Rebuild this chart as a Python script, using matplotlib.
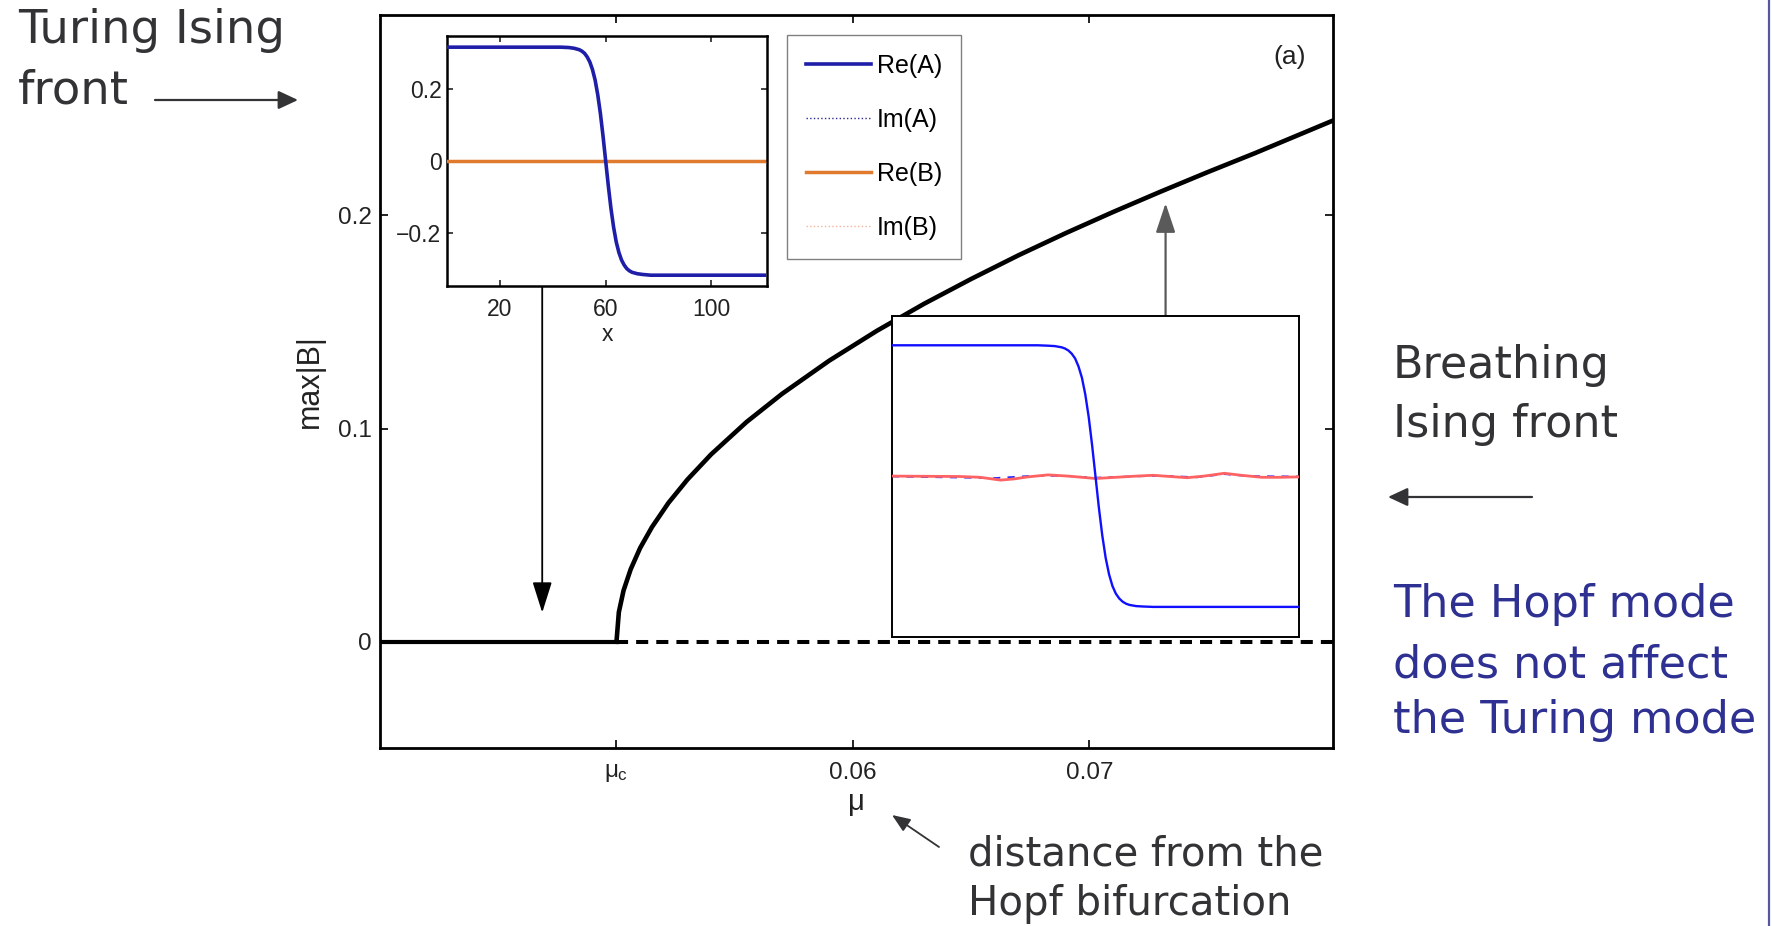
import matplotlib
matplotlib.use("Agg")
import matplotlib.pyplot as plt
from matplotlib.lines import Line2D
from matplotlib.patches import FancyArrowPatch

W, H = 1772, 926

# bifurcation diagram: max|B| versus mu
mu_lower = [0.04, 0.05]
maxB_lower = [0.0, 0.0]
mu_unstable = [0.05, 0.0803]
maxB_unstable = [0.0, 0.0]
mu_branch = [0.0500, 0.0501, 0.0503, 0.0506, 0.0510, 0.0515, 0.0522, 0.0530,
             0.0540, 0.0555, 0.0570, 0.0590, 0.0610, 0.0630, 0.0650, 0.0670,
             0.0690, 0.0710, 0.0730, 0.0750, 0.0770, 0.0803]
maxB_branch = [0.0, 0.0139, 0.0241, 0.0340, 0.0440, 0.0538, 0.0652, 0.0761,
               0.0879, 0.1031, 0.1163, 0.1319, 0.1458, 0.1585, 0.1702, 0.1813,
               0.1917, 0.2016, 0.2111, 0.2203, 0.2292, 0.2445]

mu_ticks = [0.05, 0.06, 0.07]
mu_ticklabels = [r"$\mu_c$", "0.06", "0.07"]
maxB_ticks = [0, 0.1, 0.2]
maxB_ticklabels = ["0", "0.1", "0.2"]

# Turing Ising front (upper inset)
x_front = [0, 43, 46, 48, 50, 51, 52, 53, 54, 55, 56, 57, 58, 59, 60,
           61, 62, 63, 64, 65, 66, 67, 68, 69, 70, 72, 74, 77, 120]
reA_turing = [0.316, 0.316, 0.315, 0.313, 0.309, 0.305, 0.299, 0.289, 0.275, 0.254,
              0.225, 0.184, 0.132, 0.069, 0.0, -0.069, -0.132, -0.184, -0.225, -0.254,
              -0.275, -0.289, -0.299, -0.305, -0.309, -0.313, -0.315, -0.317, -0.317]
x_flat = [0, 120]
imA_turing = [0.0, 0.0]
reB_turing = [0.0, 0.0]
imB_turing = [0.0, 0.0]
front_xticks = [20, 60, 100]
front_yticks = [-0.2, 0, 0.2]
front_yticklabels = ["\u22120.2", "0", "0.2"]

# breathing Ising front (lower inset)
reA_breath = [0.327, 0.327, 0.326, 0.325, 0.322, 0.319, 0.314, 0.306, 0.294, 0.274,
              0.246, 0.204, 0.148, 0.078, 0.0, -0.078, -0.147, -0.203, -0.244, -0.273,
              -0.292, -0.304, -0.312, -0.317, -0.320, -0.323, -0.324, -0.325, -0.325]
x_wiggle = [0, 20, 26, 32, 36, 40, 46, 52, 56, 60, 64, 68, 72, 77, 82, 87, 92, 98,
            103, 109, 114, 120]
reB_breath = [0.001, 0.0, -0.002, -0.009, -0.006, -0.001, 0.004, 0.001, -0.002, -0.005,
              -0.003, -0.001, 0.001, 0.003, 0.0, -0.003, 0.001, 0.008, 0.003, -0.002,
              -0.002, -0.001]
x_imA = [0, 30, 40, 50, 60, 70, 80, 90, 98, 105, 120]
imA_breath = [0.0, -0.004, 0.001, 0.002, -0.003, 0.0, 0.002, -0.002, 0.006, 0.001, 0.0]

plt.rcParams["font.family"] = ["Liberation Sans", "DejaVu Sans"]
plt.rcParams["mathtext.fontset"] = "custom"
plt.rcParams["mathtext.rm"] = "Liberation Sans"
plt.rcParams["mathtext.it"] = "Liberation Sans"


def fx(px):
    return px / W


def fy(py):
    return 1 - py / H


def box(x0, y0, x1, y1):
    return [fx(x0), fy(y1), (x1 - x0) / W, (y1 - y0) / H]


fig = plt.figure(figsize=(W / 100, H / 100), dpi=100)
fig.patch.set_facecolor("white")

# main diagram
ax = fig.add_axes(box(380, 15, 1333, 748))
ax.plot(mu_lower, maxB_lower, color="black", lw=3.0, solid_capstyle="butt")
ax.plot(mu_unstable, maxB_unstable, color="black", lw=2.9, linestyle=(0, (3, 2)))
ax.plot(mu_branch, maxB_branch, color="black", lw=3.3)
ax.set_xlim(0.04, 0.0803)
ax.set_ylim(-0.0498, 0.294)
ax.set_xticks(mu_ticks)
ax.set_xticklabels(mu_ticklabels)
ax.set_yticks(maxB_ticks)
ax.set_yticklabels(maxB_ticklabels)
ax.tick_params(direction="in", top=True, right=True, length=6, width=1.4,
               labelsize=17.5, colors="#222222")
ax.tick_params(axis="x", pad=10)
ax.tick_params(axis="y", pad=6)
for s in ax.spines.values():
    s.set_linewidth(2.0)
ax.set_xlabel("μ", fontsize=21, labelpad=3, color="#222222")
ax.set_ylabel("max|B|", fontsize=22, labelpad=9, color="#222222")
ax.text(0.954, 0.943, "(a)", transform=ax.transAxes, fontsize=19,
        ha="center", va="center", color="#222222")

ax.annotate("", xy=(0.04686, 0.0137), xytext=(0.04686, 0.1774),
            arrowprops=dict(arrowstyle="-|>,head_length=0.95,head_width=0.3",
                            color="black", lw=1.3, mutation_scale=20,
                            shrinkA=0, shrinkB=0))
ax.annotate("", xy=(0.07322, 0.2057), xytext=(0.07322, 0.1533),
            arrowprops=dict(arrowstyle="-|>,head_length=0.9,head_width=0.3",
                            color="#5a5a5a", lw=1.6, mutation_scale=20,
                            shrinkA=0, shrinkB=0))

# upper inset: Turing Ising front
ax1 = fig.add_axes(box(447, 36, 767, 286))
l_imA, = ax1.plot(x_flat, imA_turing, color="#2a2a90", lw=1.0, linestyle=":", zorder=2)
l_imB, = ax1.plot(x_flat, imB_turing, color="#f2b49c", lw=1.0, linestyle=":", zorder=2)
l_reB, = ax1.plot(x_flat, reB_turing, color="#e07a2e", lw=2.5, zorder=3)
l_reA, = ax1.plot(x_front, reA_turing, color="#1e1ea8", lw=2.6, zorder=4)
ax1.set_xlim(0, 121)
ax1.set_ylim(-0.347, 0.347)
ax1.set_xticks(front_xticks)
ax1.set_yticks(front_yticks)
ax1.set_yticklabels(front_yticklabels)
ax1.tick_params(direction="in", top=True, right=True, length=4, width=1.2,
                labelsize=16.5, colors="#222222")
ax1.tick_params(axis="x", pad=9)
ax1.tick_params(axis="y", pad=4)
for s in ax1.spines.values():
    s.set_linewidth(1.8)
ax1.set_xlabel("x", fontsize=16.5, labelpad=1, color="#222222")

fig.legend([l_reA, l_imA, l_reB, l_imB], ["Re(A)", "Im(A)", "Re(B)", "Im(B)"],
           loc="upper left", bbox_to_anchor=(fx(787), fy(35)), frameon=True,
           fancybox=False, edgecolor="#808080", framealpha=1, borderaxespad=0,
           handlelength=2.6, handletextpad=0.25, labelspacing=1.2,
           borderpad=0.75, fontsize=18)

# lower inset: breathing Ising front
ax2 = fig.add_axes(box(892, 316, 1299, 637))
ax2.plot(x_imA, imA_breath, color="#2a2aff", lw=1.3, linestyle=(0, (4, 4)), zorder=2)
ax2.plot(x_wiggle, reB_breath, color="#ff6262", lw=2.0, zorder=3)
ax2.plot(x_front, reA_breath, color="#1010ff", lw=1.7, zorder=4)
ax2.set_xlim(0, 120)
ax2.set_ylim(-0.4, 0.4)
ax2.set_xticks([])
ax2.set_yticks([])
for s in ax2.spines.values():
    s.set_linewidth(1.4)

# slide annotations
note = dict(family="DejaVu Sans", color="#333336", va="baseline", ha="left")
fig.text(fx(18), fy(43), "Turing Ising", fontsize=33.5, **note)
fig.text(fx(18), fy(103), "front", fontsize=33.5, **note)
fig.text(fx(1393), fy(378), "Breathing", fontsize=32, **note)
fig.text(fx(1393), fy(437), "Ising front", fontsize=32, **note)
blue_note = dict(note, color="#2e3192")
fig.text(fx(1393), fy(617), "The Hopf mode", fontsize=32, **blue_note)
fig.text(fx(1393), fy(677), "does not affect", fontsize=32, **blue_note)
fig.text(fx(1393), fy(733), "the Turing mode", fontsize=32, **blue_note)
fig.text(fx(968), fy(865), "distance from the", fontsize=29, **note)
fig.text(fx(968), fy(915), "Hopf bifurcation", fontsize=29, **note)

arrow_style = dict(arrowstyle="-|>,head_length=0.6,head_width=0.28", color="#333336",
                   lw=1.6, mutation_scale=20, shrinkA=0, shrinkB=0,
                   transform=fig.transFigure)
fig.add_artist(FancyArrowPatch((fx(155), fy(100)), (fx(298), fy(100)), **arrow_style))
fig.add_artist(FancyArrowPatch((fx(1532), fy(497)), (fx(1388), fy(497)), **arrow_style))
small_arrow = dict(arrow_style, lw=1.3, arrowstyle="-|>,head_length=0.55,head_width=0.22")
fig.add_artist(FancyArrowPatch((fx(939), fy(847)), (fx(892), fy(815)), **small_arrow))

# slide border on the right
fig.add_artist(Line2D([fx(1769), fx(1769)], [0, 1], transform=fig.transFigure,
                      color="#56569a", lw=1.6))

fig.savefig("out.png", dpi=100, facecolor="white")
